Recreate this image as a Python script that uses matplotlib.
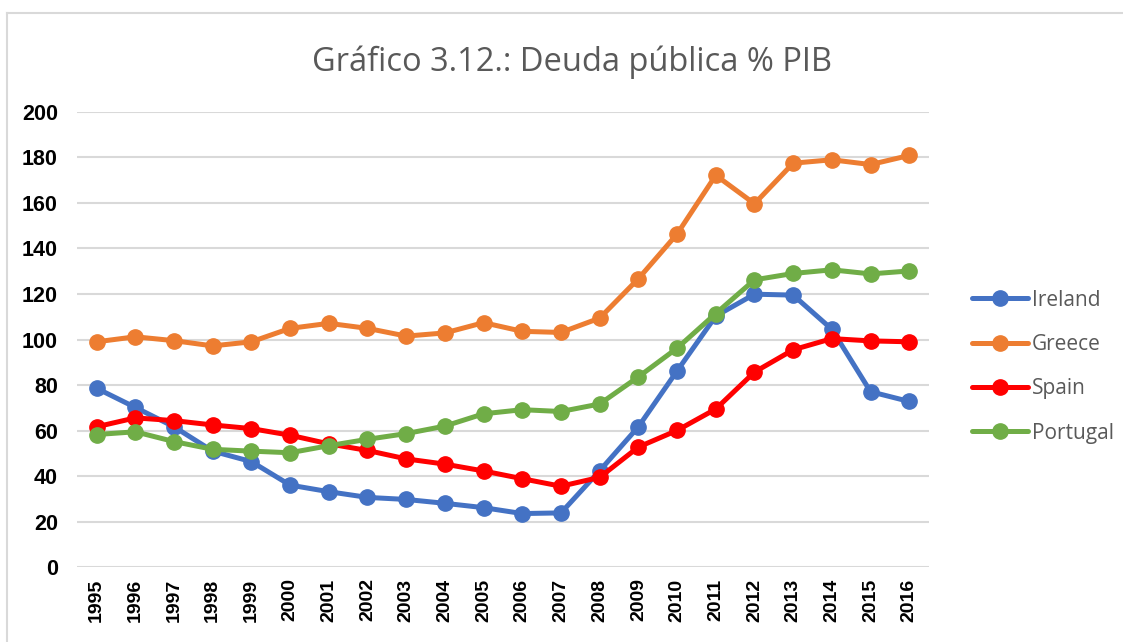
import matplotlib.pyplot as plt
from matplotlib.lines import Line2D

# --- DATOS ---
years = [str(y) for y in range(1995, 2017)]
ireland = [78.6, 70.2, 61.7, 51.0, 46.4, 36.1, 33.2, 30.7, 29.8, 28.1, 26.2, 23.6,
           23.9, 42.4, 61.7, 86.2, 110.3, 119.9, 119.5, 104.5, 77.1, 72.8]
greece = [99.0, 101.2, 99.5, 97.2, 99.0, 104.9, 107.1, 104.9, 101.5, 102.9, 107.4, 103.6,
          103.1, 109.4, 126.7, 146.3, 172.1, 159.6, 177.4, 178.9, 176.8, 180.8]
spain = [61.7, 65.6, 64.4, 62.5, 60.9, 58.0, 54.2, 51.3, 47.6, 45.3, 42.3, 38.9,
         35.6, 39.5, 52.8, 60.1, 69.5, 85.7, 95.5, 100.4, 99.4, 99.0]
portugal = [58.3, 59.5, 55.2, 51.8, 51.0, 50.3, 53.4, 56.2, 58.7, 62.0, 67.4, 69.2,
            68.4, 71.7, 83.6, 96.2, 111.4, 126.2, 129.0, 130.6, 128.8, 130.1]

series = [("Ireland", ireland, "#4472C4"),
          ("Greece", greece, "#ED7D31"),
          ("Spain", spain, "#FF0000"),
          ("Portugal", portugal, "#70AD47")]

# --- FIGURA ---
fig = plt.figure(figsize=(11.23, 6.42), dpi=100)
ax = fig.add_axes([0.0688, 0.1163, 0.7581, 0.7097])

x = range(len(years))
for nombre, valores, color in series:
    ax.plot(x, valores, color=color, linewidth=3.6, marker="o", markersize=11,
            label=nombre, solid_capstyle="round")

ax.set_xlim(-0.5, len(years) - 0.5)
ax.set_ylim(0, 200)
ax.set_yticks(range(0, 201, 20))
ax.set_xticks(list(x))
ax.set_xticklabels(years, rotation=90, fontsize=14, fontweight="bold",
                   family="Liberation Sans")
for lbl in ax.get_yticklabels():
    lbl.set_fontsize(15.5)
    lbl.set_fontweight("bold")
    lbl.set_family("Liberation Sans")
ax.tick_params(axis="y", length=0, pad=14)
ax.tick_params(axis="x", length=0, pad=8)
ax.grid(axis="y", color="#D9D9D9", linewidth=1.5)
ax.set_axisbelow(True)
for s in ax.spines.values():
    s.set_visible(False)

# Título
fig.text(0.509, 0.903, "Gráfico 3.12.: Deuda pública % PIB", ha="center", va="center",
         fontsize=23.5, color="#595959", family="Open Sans")

# Leyenda
ax.legend(loc="center left", bbox_to_anchor=(0.856, 0.429),
          bbox_transform=fig.transFigure, frameon=False,
          handlelength=2.7, handletextpad=0.2, labelspacing=1.12,
          borderpad=0, prop={"family": "Open Sans", "size": 15},
          labelcolor="#595959")

# Borde del gráfico (estilo Excel)
fig.add_artist(Line2D([7 / 1123, 1.0], [1 - 13 / 642, 1 - 13 / 642],
                      transform=fig.transFigure, color="#D9D9D9", linewidth=1.5))
fig.add_artist(Line2D([7 / 1123, 7 / 1123], [0.0, 1 - 13 / 642],
                      transform=fig.transFigure, color="#D9D9D9", linewidth=1.5))

fig.savefig("out.png", dpi=100)
